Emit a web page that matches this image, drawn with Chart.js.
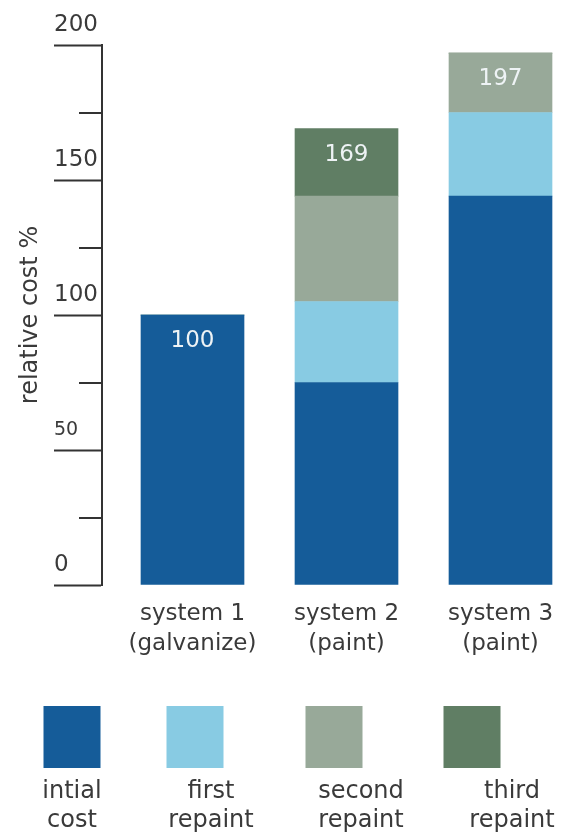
<!DOCTYPE html>
<html>
<head>
<meta charset="utf-8">
<script src="https://cdn.jsdelivr.net/npm/chart.js@4"></script>
<style>
    html, body { margin: 0; padding: 0; background: #ffffff; }
    #wrap { width: 568px; height: 836px; }
</style>
</head>
<body>
<div id="wrap"><canvas id="costChart" width="568" height="836"></canvas></div>
<script>
// coating systems along the x axis
const systems = [["system 1", "(galvanize)"], ["system 2", "(paint)"], ["system 3", "(paint)"]];
const systemSlots = [1, 2, 3];

// cost components, % of reference
const initialCost = [100, 75, 144];
const firstRepaint = [0, 30, 31];
const secondRepaint = [0, 39, 22];
const thirdRepaint = [0, 25, 0];

const seriesNames = ["intial cost", "first repaint", "second repaint", "third repaint"];
const seriesColors = ["#155c99", "#88cbe3", "#98a999", "#607e64"];

// y axis: long ticks with labels, short ones in between
const majorTicks = [0, 50, 100, 150, 200];
const minorTicks = [25, 75, 125, 175];

const FONT = "'DejaVu Sans', sans-serif";
const TEXT = "#3a3a3a";

const totals = systemSlots.map((_, i) =>
    initialCost[i] + firstRepaint[i] + secondRepaint[i] + thirdRepaint[i]);

const toPoints = arr => arr.map((v, i) => ({ x: systemSlots[i], y: v }));

const datasets = [initialCost, firstRepaint, secondRepaint, thirdRepaint].map((arr, i) => ({
    label: seriesNames[i],
    data: toPoints(arr),
    backgroundColor: seriesColors[i],
    borderWidth: 0,
    barThickness: 103
}));

// short in-between ticks on the y axis
const minorTickPlugin = {
    id: "minorTicks",
    afterDraw(chart) {
        const y = chart.scales.y;
        const ctx = chart.ctx;
        ctx.save();
        ctx.strokeStyle = "#333333";
        ctx.lineWidth = 2;
        minorTicks.forEach(v => {
            const py = Math.round(y.getPixelForValue(v));
            ctx.beginPath();
            ctx.moveTo(y.right - 23, py);
            ctx.lineTo(y.right, py);
            ctx.stroke();
        });
        ctx.restore();
    }
};

// total written inside the top of each stack
const totalLabelPlugin = {
    id: "totalLabels",
    afterDatasetsDraw(chart) {
        const ctx = chart.ctx;
        const y = chart.scales.y;
        const bars = chart.getDatasetMeta(0).data;
        ctx.save();
        ctx.font = "23px " + FONT;
        ctx.fillStyle = "#eef3f5";
        ctx.textAlign = "center";
        ctx.textBaseline = "middle";
        totals.forEach((t, i) => {
            ctx.fillText(String(t), bars[i].x, y.getPixelForValue(t) + 26);
        });
        ctx.restore();
    }
};

// colour squares with two-line captions under the chart
const boxCenters = [72, 195, 334, 472];
const captionCenters = [72, 211, 361, 512];
const legendPlugin = {
    id: "squareLegend",
    afterDraw(chart) {
        const ctx = chart.ctx;
        ctx.save();
        chart.data.datasets.forEach((ds, i) => {
            ctx.fillStyle = ds.backgroundColor;
            ctx.fillRect(boxCenters[i] - 28.5, 706, 57, 62);
            const words = ds.label.split(" ");
            ctx.font = "24px " + FONT;
            ctx.fillStyle = TEXT;
            ctx.textAlign = "center";
            ctx.textBaseline = "alphabetic";
            ctx.fillText(words[0], captionCenters[i], 798);
            ctx.fillText(words[1], captionCenters[i], 827);
        });
        ctx.restore();
    }
};

new Chart(document.getElementById("costChart"), {
    type: "bar",
    data: { datasets: datasets },
    plugins: [minorTickPlugin, totalLabelPlugin, legendPlugin],
    options: {
        responsive: false,
        animation: false,
        layout: { padding: { top: 45, right: 2, left: 0, bottom: 0 } },
        plugins: {
            legend: { display: false },
            tooltip: { enabled: false }
        },
        scales: {
            x: {
                type: "linear",
                stacked: true,
                offset: false,
                min: 0.4123,
                max: 3.4253,
                afterBuildTicks: s => { s.ticks = systemSlots.map(v => ({ value: v })); },
                afterFit: s => { s.height = 251; },
                grid: { display: false },
                border: { display: false },
                ticks: {
                    autoSkip: false,
                    maxRotation: 0,
                    padding: 6,
                    color: TEXT,
                    font: { family: FONT, size: 23, lineHeight: 1.3 },
                    callback: v => systems[systemSlots.indexOf(v)]
                }
            },
            y: {
                stacked: true,
                min: 0,
                max: 200,
                weight: 0,
                afterBuildTicks: s => {
                    s.ticks = majorTicks.concat(minorTicks).sort((a, b) => a - b).map(v => ({ value: v }));
                },
                afterFit: s => { s.width = 48; },
                border: { display: true, color: "#333333", width: 2 },
                grid: {
                    drawOnChartArea: false,
                    tickLength: 48,
                    tickWidth: 2,
                    tickColor: c => majorTicks.includes(c.tick.value) ? "#333333" : "rgba(0,0,0,0)"
                },
                ticks: {
                    crossAlign: "far",
                    labelOffset: -20,
                    color: TEXT,
                    font: c => ({ family: FONT, size: c.tick && c.tick.value === 50 ? 19 : 23 }),
                    callback: v => majorTicks.includes(v) ? String(v) : ""
                }
            },
            yTitle: {
                type: "linear",
                position: "left",
                weight: 1,
                afterFit: s => { s.width = 54; },
                grid: { display: false },
                border: { display: false },
                ticks: { display: false },
                title: {
                    display: true,
                    text: "relative cost %",
                    color: TEXT,
                    font: { family: FONT, size: 24 },
                    padding: { top: 16, bottom: 0 }
                }
            }
        }
    }
});
</script>
</body>
</html>
